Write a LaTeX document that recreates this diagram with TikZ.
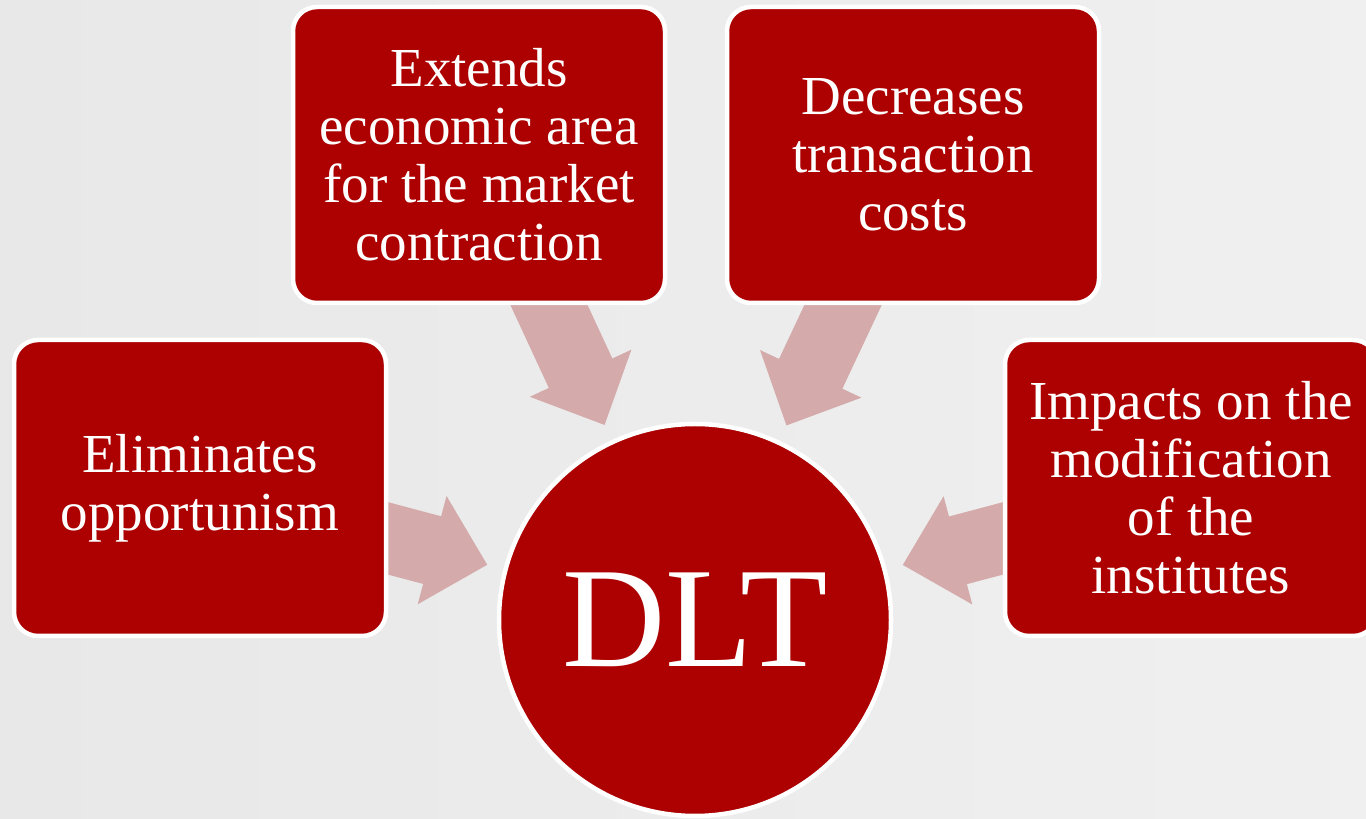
\documentclass[tikz,border=0pt]{standalone}
\usepackage{fontspec}
\setmainfont{Liberation Serif}
\usetikzlibrary{calc,backgrounds}
\definecolor{dltred}{HTML}{AD0000}
\definecolor{dltpink}{HTML}{D4AAAA}
\tikzset{
  effect/.style={draw=white,line width=4.5pt,fill=dltred,rounded corners=24pt,minimum width=372pt,minimum height=296pt,text=white,align=center,font=\fontsize{55}{58}\selectfont},
  core/.style={circle,draw=white,line width=4.5pt,fill=dltred,minimum size=392pt,inner sep=0pt,text=white,font=\fontsize{143}{143}\selectfont},
  push/.style={fill=dltpink}
}
% block arrow from a box border towards the hub
\newcommand\pusharrow[2]{%
  \coordinate (p-tip) at ($(#2.center)!215pt!(#1)$);
  \coordinate (p-tail) at ($(#1)!-40pt!(p-tip)$);
  \coordinate (p-head) at ($(p-tip)!57pt!(p-tail)$);
  \fill[push] ($(p-tail)!35pt!90:(p-tip)$) -- ($(p-head)!35pt!-90:(p-tail)$) -- ($(p-head)!56pt!-90:(p-tail)$) -- (p-tip) -- ($(p-head)!56pt!90:(p-tail)$) -- ($(p-head)!35pt!90:(p-tail)$) -- ($(p-tail)!35pt!-90:(p-tip)$) -- cycle;}
\begin{document}
\begin{tikzpicture}[x=1pt,y=1pt]
\clip (0,0) rectangle (1366,819);
\node[core] (dlt) at (695,199) {DLT};
\node[effect] (elim) at (200,331) {Eliminates\\opportunism};
\node[effect] (ext) at (479,664) {Extends\\economic area\\for the market\\contraction};
\node[effect] (decr) at (913,664) {Decreases\\transaction\\costs};
\node[effect] (imp) at (1191,331) {Impacts on the\\modification\\of the\\institutes};
\begin{scope}[on background layer]
\shade[left color=black!9,right color=black!6] (0,0) rectangle (1366,819);
\pusharrow{elim.-15}{dlt}
\pusharrow{ext.-65}{dlt}
\pusharrow{decr.245}{dlt}
\pusharrow{imp.195}{dlt}
\end{scope}
\end{tikzpicture}
\end{document}
